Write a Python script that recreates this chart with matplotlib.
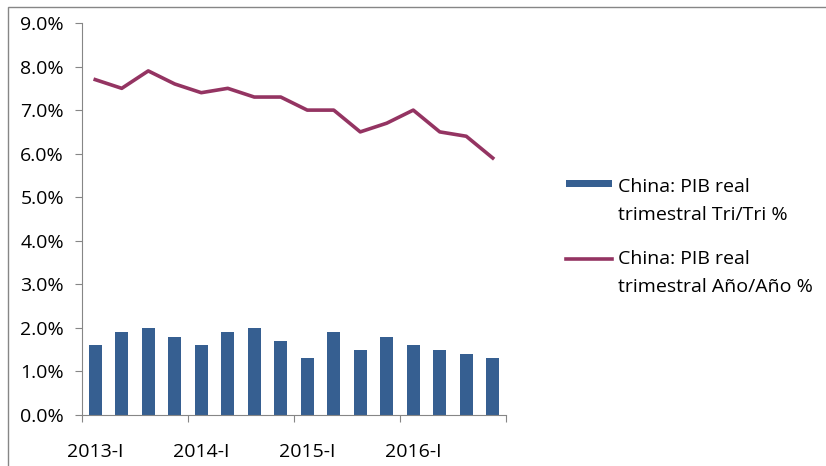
import numpy as np
import matplotlib.pyplot as plt
from matplotlib.patches import Rectangle
from matplotlib.ticker import FuncFormatter, FixedLocator
from matplotlib.legend_handler import HandlerPatch, HandlerLine2D
from matplotlib.container import BarContainer

quarters = ['2013-I', '2013-II', '2013-III', '2013-IV',
            '2014-I', '2014-II', '2014-III', '2014-IV',
            '2015-I', '2015-II', '2015-III', '2015-IV',
            '2016-I', '2016-II', '2016-III', '2016-IV']
qoq = [1.6, 1.9, 2.0, 1.8, 1.6, 1.9, 2.0, 1.7, 1.3, 1.9, 1.5, 1.8, 1.6, 1.5, 1.4, 1.3]
yoy = [7.7, 7.5, 7.9, 7.6, 7.4, 7.5, 7.3, 7.3, 7.0, 7.0, 6.5, 6.7, 7.0, 6.5, 6.4, 5.9]

plt.rcParams['font.family'] = ['Open Sans', 'DejaVu Sans']
FS = 14
SHIFT = 20  # raise legend keys to the first line of their label


class TopPatch(HandlerPatch):
    def create_artists(self, legend, orig_handle, xdescent, ydescent,
                       width, height, fontsize, trans):
        # thin bar, aligned with the first text line
        return super().create_artists(legend, orig_handle, xdescent,
                                      ydescent - 12 - 0.3 * height, width,
                                      height * 0.55, fontsize, trans)


class TopLine(HandlerLine2D):
    def create_artists(self, legend, orig_handle, xdescent, ydescent,
                       width, height, fontsize, trans):
        return super().create_artists(legend, orig_handle, xdescent,
                                      ydescent - SHIFT, width, height,
                                      fontsize, trans)


def first_child(legend_handle, orig_handle):
    legend_handle.update_from(orig_handle.patches[0])


fig = plt.figure(figsize=(8.26, 4.66), dpi=100)
ax = fig.add_axes([82 / 826, 1 - 415 / 466, (506 - 82) / 826, (415 - 23) / 466])

x = np.arange(len(quarters))
bars = ax.bar(x, qoq, width=0.5, color='#365f91')
line, = ax.plot(x, yoy, color='#943462', lw=2.6)

ax.set_xlim(-0.5, len(quarters) - 0.5)
ax.set_ylim(0, 9)
ax.set_yticks(np.arange(0, 9.1, 1))
ax.yaxis.set_major_formatter(FuncFormatter(lambda v, p: '%.1f%%' % v))

# ticks at category boundaries, labels under each year's first quarter
ax.xaxis.set_major_locator(FixedLocator([-0.5, 3.5, 7.5, 11.5, 15.5]))
ax.xaxis.set_major_formatter(FuncFormatter(lambda v, p: ''))
ax.xaxis.set_minor_locator(FixedLocator([0, 4, 8, 12]))
ax.set_xticklabels([quarters[i] for i in [0, 4, 8, 12]], minor=True)
ax.tick_params(axis='x', which='minor', length=0, pad=20, labelsize=FS)
ax.tick_params(axis='x', which='major', length=5, color='#868686')
ax.tick_params(axis='y', length=5, color='#868686', labelsize=FS, pad=8)

for s in ['top', 'right']:
    ax.spines[s].set_visible(False)
for s in ['left', 'bottom']:
    ax.spines[s].set_color('#868686')

leg = ax.legend([bars, line],
                ['China: PIB real\ntrimestral Tri/Tri %',
                 'China: PIB real\ntrimestral Año/Año %'],
                handler_map={BarContainer: TopPatch(update_func=first_child),
                             type(line): TopLine()},
                loc='center left', bbox_to_anchor=(548 / 826, 1 - 237 / 466),
                bbox_transform=fig.transFigure, frameon=False, fontsize=FS,
                handlelength=2.4, labelspacing=1.3, handletextpad=0.3)
for t in leg.get_texts():
    t.set_linespacing(1.75)

fig.patches.append(Rectangle((8 / 826, -0.1), 1.1, 1 - 7 / 466 + 0.1,
                             transform=fig.transFigure, fill=False,
                             edgecolor='#868686', lw=1))

fig.savefig('out.png', dpi=100)
